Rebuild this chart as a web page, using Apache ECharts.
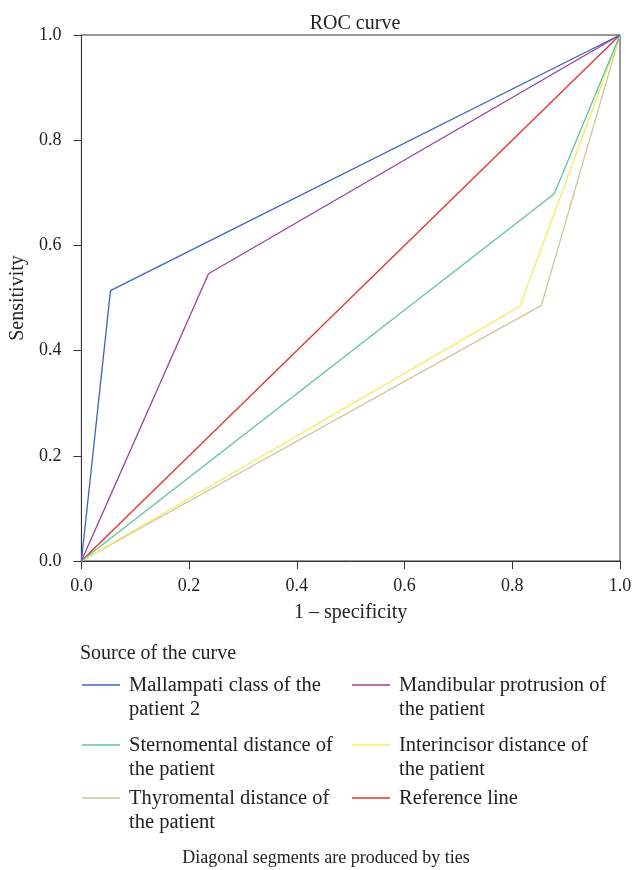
<!DOCTYPE html>
<html>
<head>
	<meta charset="UTF-8" />
	<title>ROC curve</title>
	<script src="https://cdn.jsdelivr.net/npm/echarts@6/dist/echarts.min.js"></script>
	<style type="text/css">
		body {
			margin: 0;
			background-color: #ffffff;
		}

		#chart {
			width: 635px;
			height: 870px;
		}
	</style>
</head>

<body>
	<div id="chart"></div>

	<script>
		//--------------------------- 資料 ---------------------------//

		const seriesNames = [
			"Mallampati class of the patient 2",
			"Mandibular protrusion of the patient",
			"Sternomental distance of the patient",
			"Interincisor distance of the patient",
			"Thyromental distance of the patient",
			"Reference line"
		];

		// 每條曲線的 [1 - specificity, sensitivity]
		const mallampati = [[0, 0], [0.054, 0.514], [1, 1]];
		const mandibular = [[0, 0], [0.236, 0.546], [1, 1]];
		const sternomental = [[0, 0], [0.878, 0.698], [1, 1]];
		const interincisor = [[0, 0], [0.814, 0.484], [1, 1]];
		const thyromental = [[0, 0], [0.854, 0.486], [1, 1]];
		const referenceLine = [[0, 0], [1, 1]];

		const tickValues = [0, 0.2, 0.4, 0.6, 0.8, 1.0];

		// 圖例文字（分行）
		const legendLines = [
			["Mallampati class of the", "patient 2"],
			["Mandibular protrusion of", "the patient"],
			["Sternomental distance of", "the patient"],
			["Interincisor distance of", "the patient"],
			["Thyromental distance of", "the patient"],
			["Reference line"]
		];

		const colors = ["#3b63c2", "#9a3e9f", "#5ec49b", "#f3ec62", "#cdc79c", "#e4302b"];

		//--------------------------- 圖表 ---------------------------//

		const font = "Liberation Serif";
		const chart = echarts.init(document.getElementById('chart'));

		const allData = [mallampati, mandibular, sternomental, interincisor, thyromental, referenceLine];

		// 圖例位置：兩欄
		const legendPos = [
			[82, 685], [352, 685],
			[82, 745], [352, 745],
			[82, 798], [352, 798]
		];

		let graphics = [
			{
				type: 'text', x: 80, y: 644,
				style: { text: "Source of the curve", font: "20px " + font, fill: "#222" }
			},
			{
				type: 'text', x: 326, y: 849,
				style: { text: "Diagonal segments are produced by ties", font: "18px " + font, fill: "#222", align: 'center' }
			}
		];

		legendLines.forEach((lines, i) => {
			const [x, y] = legendPos[i];
			graphics.push({
				type: 'line',
				shape: { x1: x, y1: y, x2: x + 38, y2: y },
				style: { stroke: colors[i], lineWidth: 1.5 }
			});
			graphics.push({
				type: 'text', x: x + 47, y: y - 11,
				style: { text: lines.join("\n"), font: "20.5px " + font, fill: "#222", lineHeight: 24 }
			});
		});

		chart.setOption({
			animation: false,
			title: {
				text: "ROC curve",
				left: 350,
				textAlign: 'center',
				top: 9,
				textStyle: { fontFamily: font, fontSize: 20, fontWeight: 'normal', color: '#222' }
			},
			grid: {
				left: 81, right: 15, top: 35, bottom: 309,
				show: true, borderColor: '#333', borderWidth: 1
			},
			xAxis: {
				type: 'value', min: 0, max: 1, interval: 0.2,
				name: "1 – specificity", nameLocation: 'middle', nameGap: 42,
				nameTextStyle: { fontFamily: font, fontSize: 20, color: '#222' },
				axisLine: { lineStyle: { color: '#333' } },
				axisTick: { length: 8, lineStyle: { color: '#333' } },
				axisLabel: {
					fontFamily: font, fontSize: 18, color: '#222', margin: 16,
					formatter: v => v.toFixed(1)
				},
				splitLine: { show: false }
			},
			yAxis: {
				type: 'value', min: 0, max: 1, interval: 0.2,
				name: "Sensitivity", nameLocation: 'middle', nameGap: 53,
				nameTextStyle: { fontFamily: font, fontSize: 20, color: '#222' },
				axisLine: { show: true, lineStyle: { color: '#333' } },
				axisTick: { show: true, length: 8, lineStyle: { color: '#333' } },
				axisLabel: {
					fontFamily: font, fontSize: 18, color: '#222', margin: 20,
					formatter: v => v.toFixed(1)
				},
				splitLine: { show: false }
			},
			graphic: graphics,
			series: allData.map((d, i) => ({
				name: seriesNames[i],
				type: 'line',
				data: d,
				showSymbol: false,
				lineStyle: { color: colors[i], width: 1.3 },
				z: 10 - i
			}))
		});
	</script>
</body>

</html>
